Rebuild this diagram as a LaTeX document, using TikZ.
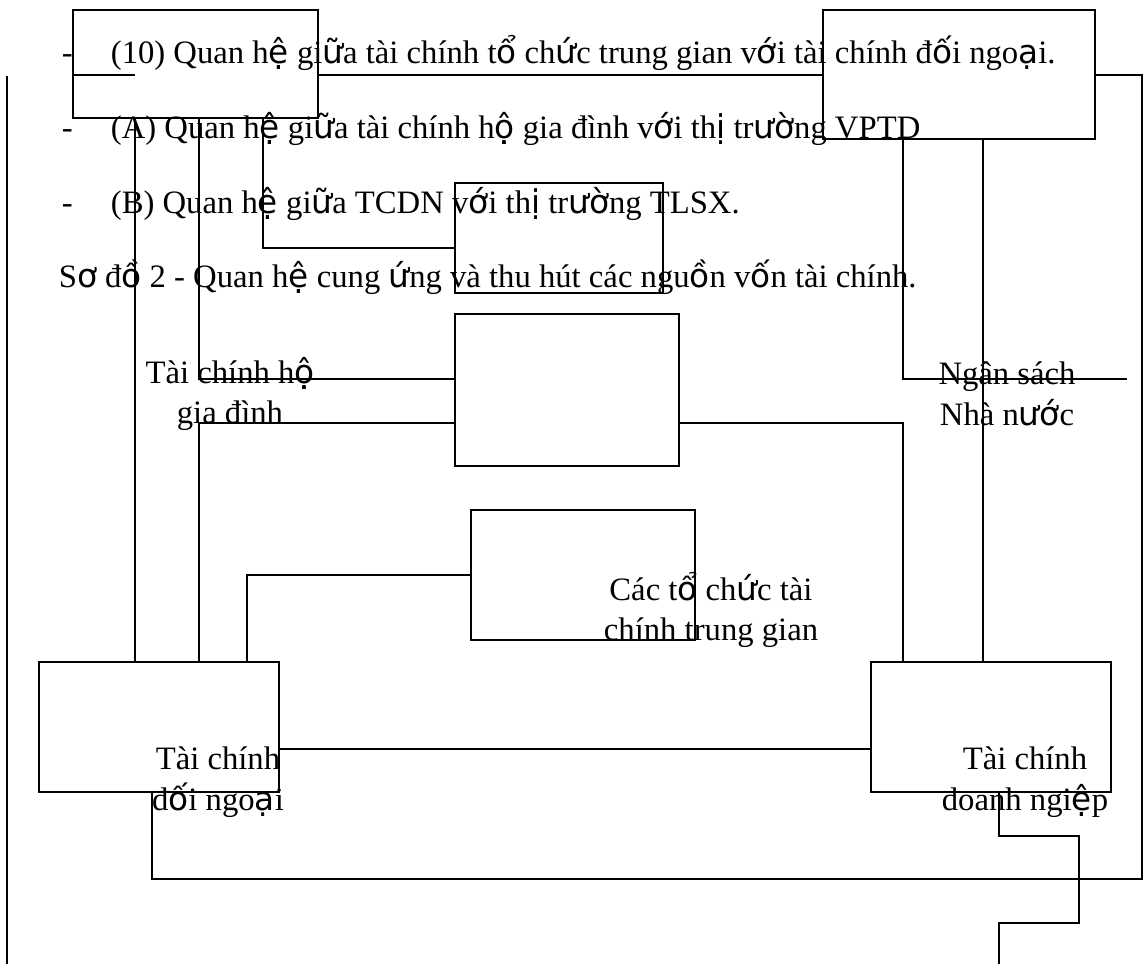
\documentclass[tikz,border=0pt]{standalone}
\usepackage{fontspec}
\setmainfont{Liberation Serif}
\newfontfamily\vnfont{DejaVu Sans}
\newcommand{\vn}[1]{{\vnfont #1}}
\begin{document}
\begin{tikzpicture}[
            x=0.02cm, y=-0.02cm,
            font=\fontsize{18.6}{23.2}\selectfont,
            line width=1pt,
            box/.style={rectangle, draw, inner sep=0pt, outer sep=0pt},
            note/.style={anchor=base west, inner sep=0pt},
            lbl/.style={align=center, inner sep=0pt}
        ]
            \useasboundingbox (0,0) rectangle (1143,964);

            % Notes
            \foreach \y/\t [count=\i] in {63/{(10) Quan h\vn{ệ} gi\vn{ữ}a tài chính t\vn{ổ} ch\vn{ứ}c trung gian v\vn{ớ}i tài chính đ\vn{ố}i ngo\vn{ạ}i.},
                                          138/{(A) Quan h\vn{ệ} gi\vn{ữ}a tài chính h\vn{ộ} gia đình v\vn{ớ}i th\vn{ị} tr\vn{ườ}ng VPTD},
                                          213/{(B) Quan h\vn{ệ} gi\vn{ữ}a TCDN v\vn{ớ}i th\vn{ị} tr\vn{ườ}ng TLSX.}} {
                \node[note] (dash\i) at (61, \y) {-};
                \node[note] (note\i) at (110, \y) {\t};
            }
            \node[note] (title) at (58, 287) {S\vn{ơ} đ\vn{ồ} 2 - Quan h\vn{ệ} cung \vn{ứ}ng và thu hút các ngu\vn{ồ}n v\vn{ố}n tài chính.};

            % Boxes
            \node[box, minimum width=4.90cm, minimum height=2.16cm] (tl) at (195.5, 64) {};
            \node[box, minimum width=5.44cm, minimum height=2.58cm] (tr) at (959, 74.5) {};
            \node[box, minimum width=4.16cm, minimum height=2.20cm] (mt) at (559, 238) {};
            \node[box, minimum width=4.48cm, minimum height=3.04cm] (hgd) at (567, 390) {};
            \node[box, minimum width=4.48cm, minimum height=2.60cm] (tg) at (583, 575) {};
            \node[box, minimum width=4.80cm, minimum height=2.60cm] (dn) at (159, 727) {};
            \node[box, minimum width=4.80cm, minimum height=2.60cm] (doanh) at (991, 727) {};

            % Labels
            \node[lbl] (lbhgd) at (230, 394) {Tài chính h\vn{ộ}\\gia đình};
            \node[lbl] (lbns) at (1007, 394) {Ngân sách\\Nhà n\vn{ướ}c};
            \node[lbl] (lbtg) at (711, 610) {Các t\vn{ổ} ch\vn{ứ}c tài\\chính trung gian};
            \node[lbl] (lbdn) at (218, 782) {Tài chính\\đ\vn{ố}i ngo\vn{ạ}i};
            \node[lbl] (lbdoanh) at (1025, 782) {Tài chính\\doanh ngi\vn{ệ}p};

            % Rows and columns
            \coordinate (r75) at (0, 75);
            \coordinate (r248) at (0, 248);
            \coordinate (r379) at (0, 379);
            \coordinate (r423) at (0, 423);
            \coordinate (r575) at (0, 575);
            \coordinate (r749) at (0, 749);
            \coordinate (c135) at (135, 0);
            \coordinate (c152) at (152, 0);
            \coordinate (c199) at (199, 0);
            \coordinate (c247) at (247, 0);
            \coordinate (c263) at (263, 0);
            \coordinate (c903) at (903, 0);
            \coordinate (c983) at (983, 0);
            \coordinate (c999) at (999, 0);
            \coordinate (top) at (7, 76);
            \coordinate (bot) at (7, 964);
            \coordinate (stub) at (72, 75);
            \coordinate (ne) at (1142, 75);
            \coordinate (se) at (1142, 879);
            \coordinate (ns) at (1127, 379);
            \coordinate (tail) at (999, 964);

            % Connectors
            \draw (top) -- (bot);
            \draw (stub) -- (stub -| c135);
            \draw (tl.east |- r75) -- (tr.west |- r75);
            \draw (tr.east |- r75) -- (ne) -- (se) -- (se -| c152) -- (dn.south -| c152);
            \draw (tl.south -| c135) -- (dn.north -| c135);
            \draw (tl.south -| c199) -- (c199 |- r379) -- (hgd.west |- r379);
            \draw (hgd.west |- r423) -- (c199 |- r423) -- (dn.north -| c199);
            \draw (tl.south -| c263) -- (c263 |- r248) -- (mt.west |- r248);
            \draw (tg.west |- r575) -- (c247 |- r575) -- (dn.north -| c247);
            \draw (hgd.east |- r423) -- (c903 |- r423) -- (doanh.north -| c903);
            \draw (tr.south -| c903) -- (c903 |- r379) -- (ns);
            \draw (tr.south -| c983) -- (doanh.north -| c983);
            \draw (dn.east |- r749) -- (doanh.west |- r749);
            \draw (doanh.south -| c999) -- ++(0, 44) -- ++(80, 0) -- ++(0, 87) -- ++(-80, 0) -- (tail);
        \end{tikzpicture}
\end{document}
